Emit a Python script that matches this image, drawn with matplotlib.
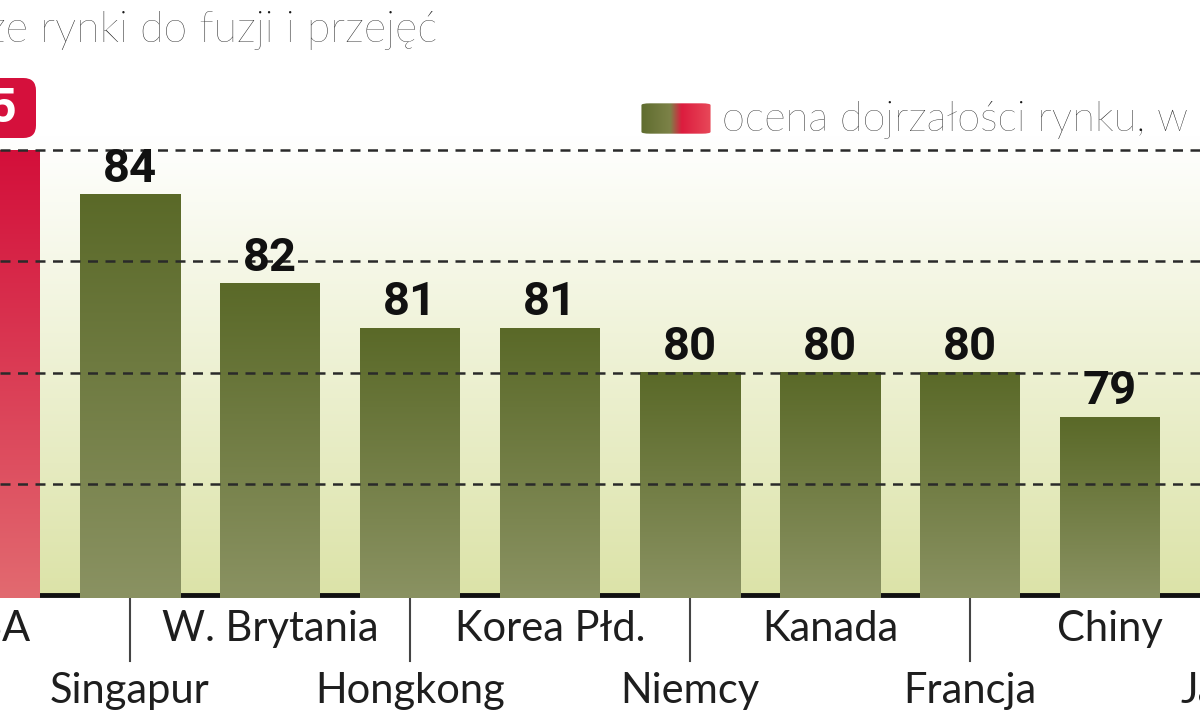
import matplotlib
matplotlib.use("Agg")
import matplotlib.pyplot as plt
import numpy as np
from matplotlib.patches import FancyBboxPatch

# ---- data ----
countries = ["USA", "Singapur", "W. Brytania", "Hongkong", "Korea Płd.",
             "Niemcy", "Kanada", "Francja", "Chiny", "Japonia"]
scores = [85, 84, 82, 81, 81, 80, 80, 80, 79, 79]
title = "Najlepsze rynki do fuzji i przejęć"
legend_label = "ocena dojrzałości rynku, w pkt"
y_base = 75
grid_levels = [77.5, 80, 82.5, 85]

# ---- layout (pixel mapping of the cropped reference) ----
W, H = 1200, 716
DPI = 100
px_step = 140.0          # pixels between bar centres
px_first = -10.0         # pixel x of first bar centre
px_base = 595.0          # pixel y of baseline
px_per_unit = 44.5       # pixels per score point

x0 = (0 - px_first) / px_step
x1 = (W - px_first) / px_step
ytop = y_base + px_base / px_per_unit
ybot = y_base - (H - px_base) / px_per_unit

fig = plt.figure(figsize=(W / DPI, H / DPI), dpi=DPI)
ax = fig.add_axes([0, 0, 1, 1])
ax.set_xlim(x0, x1)
ax.set_ylim(ybot, ytop)
ax.axis("off")

def pxy(p):  # pixel height -> data units
    return p / px_per_unit

def pxx(p):
    return p / px_step

# background gradient (white at top -> pale olive at bottom)
bg_top = np.array([1.0, 1.0, 1.0])
bg_bot = np.array([0xdc, 0xe3, 0xa8]) / 255
n = 256
t = np.linspace(0, 1, n)[:, None]
grad = (bg_top * (1 - t) + bg_bot * t)[:, None, :]
grad = np.repeat(grad, 2, axis=1)
ax.imshow(grad, extent=(x0, x1, y_base, grid_levels[-1] + 0.3), aspect="auto",
          origin="upper", zorder=0, interpolation="bicubic")

# baseline
ax.axhline(y_base, color="#111111", lw=3.5, zorder=1)

# bars with vertical gradients
bar_w = 100 / px_step
green_top = np.array([0x5a, 0x69, 0x28]) / 255
green_bot = np.array([0x8a, 0x92, 0x62]) / 255
red_top = np.array([0xd3, 0x0f, 0x3a]) / 255
red_bot = np.array([0xe2, 0x6a, 0x70]) / 255
bars = ax.bar(np.arange(len(countries)), np.array(scores) - y_base + pxy(3),
              bottom=y_base - pxy(3), width=bar_w, color="none", zorder=2)
for i, (b, v) in enumerate(zip(bars, scores)):
    ctop, cbot = (red_top, red_bot) if i == 0 else (green_top, green_bot)
    g = (ctop * (1 - t) + cbot * t)[:, None, :]
    g = np.repeat(g, 2, axis=1)
    x, y = b.get_x(), b.get_y()
    ax.imshow(g, extent=(x, x + b.get_width(), y, y + b.get_height()),
              aspect="auto", origin="upper", zorder=2, interpolation="bicubic")

# dashed gridlines on top of bars
for lv in grid_levels:
    ax.axhline(lv, color="#2a2a2a", lw=1.8, ls=(0, (4, 3)), zorder=3)

NUMFONT = ["Roboto", "DejaVu Sans"]
# value labels
for i, v in enumerate(scores):
    if i == 0:
        box = FancyBboxPatch((i - pxx(60), v + pxy(12)), pxx(106), pxy(60),
                             boxstyle="round,pad=0,rounding_size=0.09",
                             mutation_aspect=pxy(1) / pxx(1),
                             fc="#d5103c", ec="none", zorder=4)
        ax.add_patch(box)
        ax.text(i, v + pxy(41), f"{v}", ha="center", va="center",
                color="white", fontsize=35, fontweight="bold",
                family=NUMFONT, zorder=5)
    else:
        ax.text(i, v + pxy(26), f"{v}", ha="center", va="center",
                color="#111111", fontsize=34, fontweight="bold",
                family=NUMFONT, zorder=5)

# category labels, staggered, with separators under lower-row labels
for i, c in enumerate(countries):
    if i % 2 == 0:
        ax.text(i, y_base - pxy(34), c, ha="center", va="center",
                fontsize=30, color="#1e1e1e", family="Lato")
    else:
        ax.text(i, y_base - pxy(96), c, ha="center", va="center",
                fontsize=30, color="#1e1e1e", family="Lato")
        ax.plot([i, i], [y_base - pxy(4), y_base - pxy(66)],
                color="#444444", lw=1.5, zorder=1)

# title (cropped at left in the reference)
fig.text(437 / W, 1 - 30 / H, title, ha="right", va="center",
         fontsize=31, color="#1a1a1a", family="Lato", fontweight="light")

# legend swatch with green->red gradient
nx = 128
sw = np.zeros((16, nx, 3))
green_l = np.array([0x5e, 0x6c, 0x2e]) / 255
green_m = np.array([0x7c, 0x82, 0x48]) / 255
red_l = np.array([0xdc, 0x1c, 0x3e]) / 255
red_r = np.array([0xe8, 0x4a, 0x5a]) / 255
for k in range(nx):
    s = k / (nx - 1)
    if s < 0.42:
        c = green_l + (green_m - green_l) * (s / 0.42)
    elif s < 0.58:
        u = (s - 0.42) / 0.16
        c = green_m * (1 - u) + red_l * u
    else:
        u = (s - 0.58) / 0.42
        c = red_l * (1 - u) + red_r * u
    sw[:, k, :] = c
lx0, lx1 = 640 / W, 712 / W
ly0, ly1 = 1 - 135 / H, 1 - 102 / H
lax = fig.add_axes([lx0, ly0, lx1 - lx0, ly1 - ly0])
lax.imshow(sw, aspect="auto", extent=(0, 1, 0, 1), interpolation="bicubic")
clip = FancyBboxPatch((0.02, 0.04), 0.96, 0.92,
                      boxstyle="round,pad=0,rounding_size=0.12",
                      mutation_aspect=(ly1 - ly0) * H / ((lx1 - lx0) * W),
                      transform=lax.transData, fc="none", ec="none")
lax.add_patch(clip)
lax.images[0].set_clip_path(clip)
lax.axis("off")
fig.text(722 / W, 1 - 120 / H, legend_label, ha="left", va="center",
         fontsize=30, color="#1a1a1a", family="Lato", fontweight="light")

fig.savefig("out.png", dpi=DPI)
